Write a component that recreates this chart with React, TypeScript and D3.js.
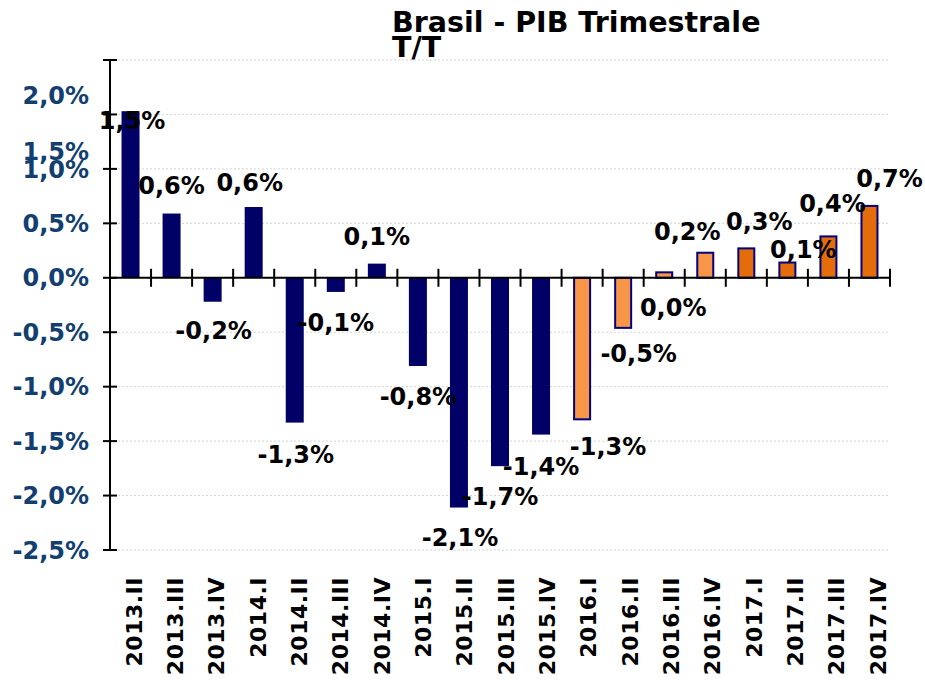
import React from "react";
import * as d3 from "d3";

const categories = [
  "2013.II", "2013.III", "2013.IV", "2014.I", "2014.II", "2014.III", "2014.IV",
  "2015.I", "2015.II", "2015.III", "2015.IV", "2016.I", "2016.II", "2016.III",
  "2016.IV", "2017.I", "2017.II", "2017.III", "2017.IV",
];
const values = [
  1.53, 0.59, -0.22, 0.65, -1.33, -0.13, 0.13, -0.81, -2.11, -1.73, -1.44,
  -1.3, -0.46, 0.05, 0.23, 0.27, 0.14, 0.38, 0.66,
];
const valueLabels = [
  "1,5%", "0,6%", "-0,2%", "0,6%", "-1,3%", "-0,1%", "0,1%", "-0,8%", "-2,1%",
  "-1,7%", "-1,4%", "-1,3%", "-0,5%", "0,0%", "0,2%", "0,3%", "0,1%", "0,4%", "0,7%",
];
const groups = [
  "a", "a", "a", "a", "a", "a", "a", "a", "a", "a", "a",
  "b", "b", "b", "b", "c", "c", "c", "c",
];
const yTicks = [2.0, 1.5, 1.0, 0.5, 0, -0.5, -1.0, -1.5, -2.0, -2.5];
const titleLines = ["Brasil - PIB Trimestrale", "T/T"];

// label placement styles (offsets in px)
const labelDx = [1.5, 0, 1, -4, 1, 0, 0, 0, 1, 0, 0, 26, 15.5, 9, -18, 13, 16, 4, 20];
const labelDy = [9, -28, 29, -25, 32, 30, -27, 30, 30, 30, 32, 27, 25, 35, -21, -27, -13, -33, -28];
const yLabelDy: Record<string, number> = { "2": 35, "1.5": 37 };

const fills: Record<string, string> = { a: "#000066", b: "#F79646", c: "#E46C0A" };

const W = 925;
const H = 681;
const FONT = "'DejaVu Sans', Verdana, sans-serif";

export default function App() {
  const x = d3.scaleBand<string>().domain(categories).range([110, 890]).padding(0);
  const y = d3.scaleLinear().domain([-2.5, 2.0]).range([550, 60]);
  const bw = 18;
  const fmt = (v: number) => d3.format(".1f")(v).replace(".", ",").replace("−", "-") + "%";
  const y0 = y(0);
  const step = x.step();

  return (
    <svg
      width={W}
      height={H}
      style={{ position: "absolute", left: 0, top: 0, background: "#fff" }}
      fontFamily={FONT}
    >
      {/* gridlines */}
      {yTicks
        .filter((t) => t !== 0)
        .map((t) => (
          <line
            key={"g" + t}
            x1={118}
            x2={890}
            y1={y(t)}
            y2={y(t)}
            stroke="#d4d4d4"
            strokeWidth={1}
            strokeDasharray="2,2"
          />
        ))}

      {/* title */}
      {titleLines.map((t, i) => (
        <text
          key={t}
          x={392}
          y={32 + i * 25}
          fontSize={28.5}
          fontWeight="bold"
          fill="#000"
        >
          {t}
        </text>
      ))}

      {/* bars */}
      {values.map((v, i) => {
        const cx = (x(categories[i]) as number) + step / 2;
        const top = Math.min(y(v), y0);
        const h = Math.abs(y(v) - y0);
        const g = groups[i];
        return g === "a" ? (
          <rect key={"b" + i} x={cx - bw / 2} y={top} width={bw} height={h} fill={fills[g]} />
        ) : (
          <rect
            key={"b" + i}
            x={cx - (bw - 2) / 2}
            y={top}
            width={bw - 2}
            height={h}
            fill={fills[g]}
            stroke="#000080"
            strokeWidth={2}
          />
        );
      })}

      {/* y axis */}
      <line x1={110} x2={110} y1={y(2.0)} y2={y(-2.5)} stroke="#000" strokeWidth={2} />
      {yTicks.map((t) => (
        <g key={"yt" + t}>
          <line x1={103} x2={117} y1={y(t)} y2={y(t)} stroke="#000" strokeWidth={2} />
          <text
            x={89}
            y={y(t) + (yLabelDy[String(t)] || 0)}
            dy="0.36em"
            textAnchor="end"
            fontSize={24}
            fontWeight="bold"
            fill="#123F70"
          >
            {fmt(t)}
          </text>
        </g>
      ))}

      {/* x axis */}
      <line x1={110} x2={890} y1={y0} y2={y0} stroke="#000" strokeWidth={2} />
      {categories.map((c) => (
        <line
          key={"xt" + c}
          x1={(x(c) as number) + step}
          x2={(x(c) as number) + step}
          y1={y0 - 9}
          y2={y0 + 9}
          stroke="#000"
          strokeWidth={2}
        />
      ))}

      {/* bar labels */}
      {values.map((v, i) => {
        const cx = (x(categories[i]) as number) + step / 2;
        return (
          <text
            key={"l" + i}
            x={cx + labelDx[i]}
            y={y(v) + labelDy[i]}
            dy="0.36em"
            textAnchor="middle"
            fontSize={24}
            fontWeight="bold"
            fill="#000"
          >
            {valueLabels[i]}
          </text>
        );
      })}

      {/* x labels */}
      {categories.map((c, i) => {
        const cx = (x(c) as number) + step / 2 + 11 + i * 0.28;
        return (
          <text
            key={"xl" + c}
            transform={`translate(${cx},577) rotate(-90)`}
            textAnchor="end"
            fontSize={22}
            fontWeight="bold"
            letterSpacing={0.5}
            fill="#000"
          >
            {c}
          </text>
        );
      })}
    </svg>
  );
}
